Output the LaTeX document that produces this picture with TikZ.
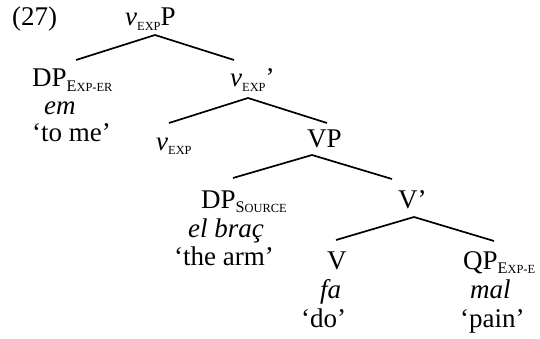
\documentclass[tikz,border=0pt]{standalone}
\usepackage{fontspec}
\setmainfont{Liberation Serif}
% feature subscripts in faked small capitals: #1 full-size initial, #2 small capitals
\newcommand\fsub[2]{\raisebox{-4.5pt}{\fontsize{16.2}{16}\selectfont #1\fontsize{12.4}{12}\selectfont #2}}
\newcommand\vexp{\textit{v}\fsub{}{EXP}}
\begin{document}
\begin{tikzpicture}[x=1pt,y=-1pt,
  lbl/.style={inner sep=0pt, anchor=base west, font=\fontsize{27}{32}\selectfont},
  branch/.style={line width=1.7pt}]
\useasboundingbox (0,0) rectangle (540,339);

% example number and root
\node[lbl] (num) at (12,26) {(27)};
\node[lbl] (vP) at (125,26) {\vexp P};

% first level
\node[lbl] (dpexp) at (32,87) {DP\fsub{E}{XP-ER}};
\node[lbl] (em) at (44,115) {\textit{em}};
\node[lbl] (tome) at (32,142) {‘to me’};
\node[lbl] (vbar) at (230,87) {\vexp’};

% second level
\node[lbl] (vhead) at (156,150) {\vexp};
\node[lbl] (VP) at (307,148) {VP};

% third level
\node[lbl] (dpsrc) at (201,208) {DP\fsub{S}{OURCE}};
\node[lbl] (brac) at (188,237) {\textit{el braç}};
\node[lbl] (arm) at (174,265) {‘the arm’};
\node[lbl] (Vbar) at (398,208) {V’};

% fourth level
\node[lbl] (V) at (327,269) {V};
\node[lbl] (fa) at (320,298) {\textit{fa}};
\node[lbl] (do) at (301,327) {‘do’};
\node[lbl] (qp) at (463,269) {QP\fsub{E}{XP-E}};
\node[lbl] (mal) at (470,298) {\textit{mal}};
\node[lbl] (pain) at (460,327) {‘pain’};

% branch points
\coordinate (vPb) at (155,35);
\coordinate (dpexpt) at (76,60);
\coordinate (vbart) at (234,60);
\coordinate (vbarb) at (248,98);
\coordinate (vheadt) at (169,123);
\coordinate (VPt) at (327,123);
\coordinate (VPb) at (312,155);
\coordinate (dpsrct) at (233,178);
\coordinate (Vbart) at (392,179);
\coordinate (Vbarb) at (414,217);
\coordinate (Vt) at (336,240);
\coordinate (qpt) at (494,241);

\draw[branch] (dpexpt) -- (vPb) -- (vbart);
\draw[branch] (vheadt) -- (vbarb) -- (VPt);
\draw[branch] (dpsrct) -- (VPb) -- (Vbart);
\draw[branch] (Vt) -- (Vbarb) -- (qpt);
\end{tikzpicture}
\end{document}
